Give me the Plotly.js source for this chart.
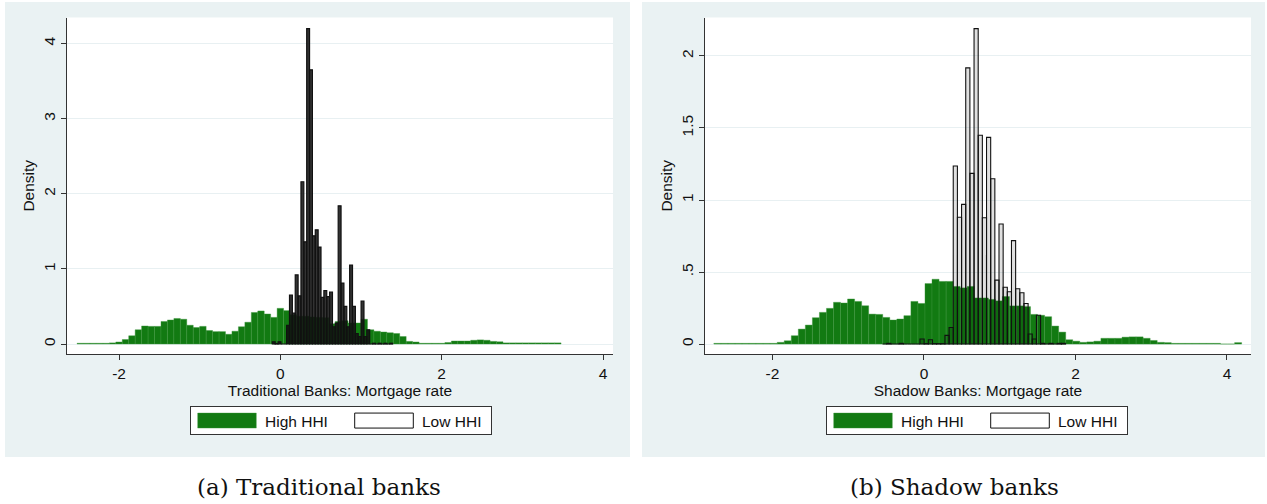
<!DOCTYPE html>
<html><head><meta charset="utf-8">
<script src="https://cdn.plot.ly/plotly-3.0.1.min.js"></script>
<style>html,body{margin:0;padding:0;background:#fff;} #chart{width:1267px;height:504px;}</style>
</head><body><div id="chart"></div>
<script>
// ---------- DATA ----------
// Traditional banks, High HHI histogram
const tradHighStart = -2.52;
const tradHighWidth = 0.08;
const tradHighDensity = [
  0.01, 0.01, 0.01, 0.01, 0.01, 0.015, 0.027, 0.06, 0.11, 0.19,
  0.24, 0.235, 0.235, 0.30, 0.32, 0.34, 0.33, 0.25, 0.22, 0.235,
  0.18, 0.165, 0.165, 0.13, 0.17, 0.23, 0.29, 0.42, 0.44, 0.40,
  0.355, 0.475, 0.445, 0.39, 0.37, 0.37, 0.36, 0.355, 0.35, 0.27,
  0.30, 0.31, 0.28, 0.28, 0.33, 0.19, 0.17, 0.16, 0.15, 0.14,
  0.10, 0.035, 0.027, 0.01, 0.01, 0.01, 0.01, 0.02, 0.04, 0.04,
  0.04, 0.05, 0.055, 0.05, 0.035, 0.03, 0.015, 0.015, 0.015, 0.015,
  0.015, 0.015, 0.015, 0.015, 0.015
];
// Traditional banks, Low HHI histogram
const tradLowStart = -0.0995;
const tradLowWidth = 0.0355;
const tradLowDensity = [
  0.03, 0.005, 0.03, 0, 0, 0.25, 0.65, 0.41, 0.92, 0.64,
  2.16, 1.36, 4.2, 3.65, 1.44, 1.52, 1.29, 0.62, 0.71, 0.63,
  0.69, 0.23, 0.28, 1.84, 0.81, 0.50, 0.23, 1.05, 0.50, 0.14,
  0.10, 0.57, 0.10, 0.19, 0, 0.01, 0, 0.01, 0, 0.01,
  0, 0.01
];
// Shadow banks, High HHI histogram
const shadHighStart = -2.774;
const shadHighWidth = 0.0929;
const shadHighDensity = [
  0.005, 0.005, 0.005, 0.005, 0.005, 0.005, 0.005, 0.005, 0.005, 0.012,
  0.023, 0.058, 0.104, 0.132, 0.183, 0.22, 0.248, 0.29, 0.285, 0.313,
  0.296, 0.266, 0.208, 0.206, 0.185, 0.167, 0.174, 0.197, 0.296, 0.282,
  0.42, 0.45, 0.435, 0.435, 0.40, 0.39, 0.40, 0.32, 0.32, 0.31,
  0.30, 0.33, 0.265, 0.265, 0.26, 0.206, 0.20, 0.19, 0.125, 0.083,
  0.03, 0.02, 0.012, 0.015, 0.02, 0.04, 0.04, 0.04, 0.048, 0.05,
  0.05, 0.04, 0.025, 0.012, 0.01, 0.005, 0.005, 0.005, 0.005, 0.005,
  0.005, 0.005, 0, 0, 0.01
];
// Shadow banks, Low HHI histogram
const shadLowStart = -0.547;
const shadLowWidth = 0.0549;
const shadLowDensity = [
  0, 0.005, 0, 0, 0.005, 0, 0, 0, 0, 0.035,
  0.003, 0.03, 0.003, 0.003, 0.003, 0.06, 0.115, 1.236, 0.88, 0.97,
  1.917, 1.185, 2.19, 1.45, 0.877, 1.435, 1.148, 0.444, 0.833, 0.394,
  0.363, 0.718, 0.384, 0.356, 0.282, 0.07, 0.035, 0.20, 0.005, 0,
  0.005, 0, 0.005, 0.005
];

const seriesNames = ['High HHI', 'Low HHI'];
const panelCaptions = ['(a) Traditional banks', '(b) Shadow banks'];
const xTitles = ['Traditional Banks: Mortgage rate', 'Shadow Banks: Mortgage rate'];
const yTitle = 'Density';
const tradXTickVals = [-2, 0, 2, 4];
const tradXTickText = ['-2', '0', '2', '4'];
const tradYTickVals = [0, 1, 2, 3, 4];
const tradYTickText = ['0', '1', '2', '3', '4'];
const shadXTickVals = [-2, 0, 2, 4];
const shadXTickText = ['-2', '0', '2', '4'];
const shadYTickVals = [0, 0.5, 1, 1.5, 2];
const shadYTickText = ['0', '.5', '1', '1.5', '2'];

// ---------- CHART ----------
const W = 1267, H = 504;
const px = v => v / W;
const py = v => 1 - v / H;
function centers(start, width, vals) { return vals.map((_, i) => start + width * (i + 0.5)); }

const GREEN = '#127A12';
const FONT = 'Liberation Sans, Arial, sans-serif';
const FS = 15.5;

function highTrace(start, width, vals, xa, ya, lg) {
  return { type: 'bar', name: seriesNames[0], x: centers(start, width, vals), y: vals, width: width,
    xaxis: xa, yaxis: ya, legend: lg,
    marker: { color: GREEN, line: { color: 'rgba(60,150,60,0.8)', width: 0.5 } }, hoverinfo: 'skip' };
}
function lowTrace(start, width, vals, xa, ya, lg, lw, fill) {
  return { type: 'bar', name: seriesNames[1], x: centers(start, width, vals), y: vals, width: width,
    xaxis: xa, yaxis: ya, legend: lg,
    marker: { color: fill, line: { color: '#111', width: lw } }, hoverinfo: 'skip' };
}

const data = [
  highTrace(tradHighStart, tradHighWidth, tradHighDensity, 'x', 'y', 'legend'),
  lowTrace(tradLowStart, tradLowWidth, tradLowDensity, 'x', 'y', 'legend', 1.2, 'rgba(18,18,18,0.86)'),
  highTrace(shadHighStart, shadHighWidth, shadHighDensity, 'x2', 'y2', 'legend2'),
  lowTrace(shadLowStart, shadLowWidth, shadLowDensity, 'x2', 'y2', 'legend2', 1.1, 'rgba(0,0,0,0.12)')
];

function xAxis(domain, range, tv, tt, title, anchor) {
  return { domain: domain, range: range, anchor: anchor, tickmode: 'array', tickvals: tv, ticktext: tt,
    showline: true, linecolor: '#333', linewidth: 1, ticks: 'outside', ticklen: 5, tickcolor: '#333',
    tickfont: { family: FONT, size: FS, color: '#111' }, showgrid: false, zeroline: false,
    title: { text: title, font: { family: FONT, size: FS, color: '#111' }, standoff: 1 } };
}
function yAxis(domain, range, tv, tt, anchor) {
  return { domain: domain, range: range, anchor: anchor, tickmode: 'array', tickvals: tv, ticktext: tt,
    tickangle: -90, showline: true, linecolor: '#333', linewidth: 1, ticks: 'outside', ticklen: 5, tickcolor: '#333',
    tickfont: { family: FONT, size: FS, color: '#111' }, showgrid: true, gridcolor: '#E8F0F2', gridwidth: 1,
    zeroline: false,
    title: { text: yTitle, font: { family: FONT, size: FS, color: '#111' }, standoff: 2 } };
}
const yDom = [py(354), py(17.5)];

function legendCfg(x) {
  return { x: x, xanchor: 'left', y: py(403), yanchor: 'top', orientation: 'h',
    bgcolor: '#fff', bordercolor: '#333', borderwidth: 1,
    font: { family: FONT, size: FS, color: '#111' }, itemwidth: 64, entrywidth: 78,
    traceorder: 'normal', itemclick: false, itemdoubleclick: false };
}

const layout = {
  width: W, height: H, margin: { l: 0, r: 0, t: 0, b: 0 },
  paper_bgcolor: '#fff', plot_bgcolor: 'rgba(0,0,0,0)',
  barmode: 'overlay', bargap: 0, showlegend: true,
  xaxis: xAxis([px(67), px(613)], [-2.645, 4.124], tradXTickVals, tradXTickText, xTitles[0], 'y'),
  yaxis: yAxis(yDom, [-0.133, 4.347], tradYTickVals, tradYTickText, 'x'),
  xaxis2: xAxis([px(705), px(1251)], [-2.891, 4.317], shadXTickVals, shadXTickText, xTitles[1], 'y2'),
  yaxis2: yAxis(yDom, [-0.069, 2.267], shadYTickVals, shadYTickText, 'x2'),
  legend: legendCfg(px(190)),
  legend2: legendCfg(px(826)),
  shapes: [
    { type: 'rect', xref: 'paper', yref: 'paper', x0: px(5), x1: px(630), y0: py(457), y1: py(2),
      fillcolor: '#EAF2F3', line: { width: 0 }, layer: 'below' },
    { type: 'rect', xref: 'paper', yref: 'paper', x0: px(642), x1: px(1265), y0: py(457), y1: py(2),
      fillcolor: '#EAF2F3', line: { width: 0 }, layer: 'below' },
    { type: 'rect', xref: 'x domain', yref: 'y domain', x0: 0, x1: 1, y0: 0, y1: 1,
      fillcolor: '#fff', line: { width: 0 }, layer: 'below' },
    { type: 'rect', xref: 'x2 domain', yref: 'y2 domain', x0: 0, x1: 1, y0: 0, y1: 1,
      fillcolor: '#fff', line: { width: 0 }, layer: 'below' }
  ],
  annotations: [
    { text: panelCaptions[0], xref: 'paper', yref: 'paper', x: px(318.5), y: py(487), showarrow: false,
      xanchor: 'center', yanchor: 'middle', font: { family: 'DejaVu Serif, serif', size: 23, color: '#111' } },
    { text: panelCaptions[1], xref: 'paper', yref: 'paper', x: px(955), y: py(487), showarrow: false,
      xanchor: 'center', yanchor: 'middle', font: { family: 'DejaVu Serif, serif', size: 23, color: '#111' } }
  ]
};

Plotly.newPlot('chart', data, layout, { displayModeBar: false, staticPlot: true }).then(gd => {
  gd.querySelectorAll('g.legend, g.legend2').forEach(lg => {
    lg.querySelectorAll('g.traces').forEach((tr, i) => {
      tr.querySelectorAll('.legendpoints path').forEach(p => {
        p.setAttribute('d', 'M28.3,7.5H-30.3V-7.5H28.3Z');
        if (i === 1) { p.style.fill = 'rgba(0,0,0,0)'; p.style.strokeWidth = '1px'; p.style.stroke = '#111'; }
      });
    });
    const bg = lg.querySelector('rect.bg');
    if (bg) {
      const bb = bg.getBoundingClientRect();
      const y0 = parseFloat(bg.getAttribute('y') || 0);
      bg.setAttribute('y', y0 + (406.5 - bb.top));
      bg.setAttribute('height', 28);
      bg.setAttribute('width', 301);
    }
  });
});
</script>
</body></html>
